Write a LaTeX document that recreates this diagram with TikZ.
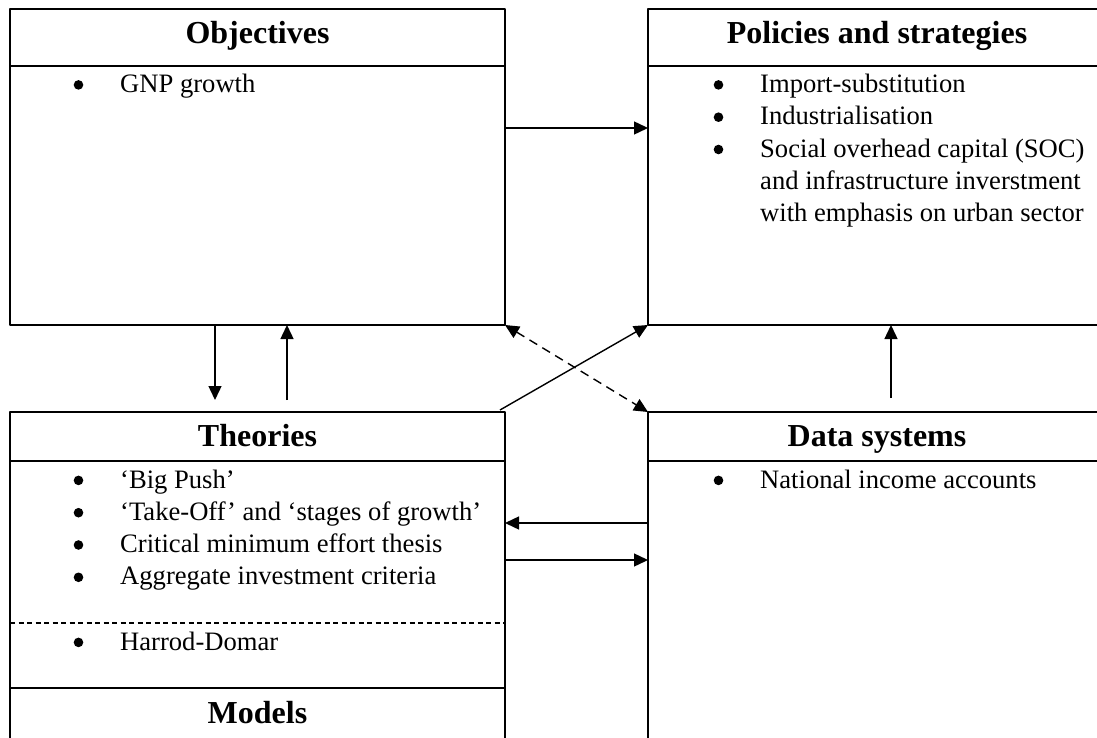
\documentclass[tikz,border=0pt]{standalone}
\usepackage{fontspec}
\setmainfont{Liberation Serif}
\usetikzlibrary{arrows.meta,calc}
\newcommand{\bodyfont}{\fontsize{26.6}{32.3}\selectfont}
\newcommand{\headfont}{\fontsize{32}{38}\selectfont\bfseries}
\newcommand{\bul}{\tikz[baseline={(0pt,-7.6pt)}]\fill (0pt,0pt) circle (4.8pt);}

\begin{document}
\begin{tikzpicture}[x=1pt,y=-1pt,line join=round,
  box/.style={draw,line width=2pt,rectangle,inner sep=0pt,outer sep=0pt,anchor=north west},
  head/.style={font=\headfont,anchor=base,inner sep=0pt},
  items/.style={font=\bodyfont,anchor=base west,inner sep=0pt},
  arr/.style={line width=1.4pt,-{Triangle[length=14pt,width=13pt]}},
  >={Triangle[length=14pt,width=13pt]}]
\clip (0,0) rectangle (1097,738);
% boxes
\node[box,minimum width=495pt,minimum height=316pt] (obj) at (10,9) {};
\node[box,minimum width=458pt,minimum height=316pt] (pol) at (648,9) {};
\node[box,minimum width=495pt,minimum height=276pt] (the) at (10,412) {};
\node[box,minimum width=495pt,minimum height=80pt] (mod) at (10,688) {};
\node[box,minimum width=458pt,minimum height=360pt] (dat) at (648,412) {};
% header rules
\draw[line width=2pt] (obj.west |- 0,66) -- (obj.east |- 0,66)
  (pol.west |- 0,66) -- (pol.east |- 0,66)
  (the.west |- 0,461) -- (the.east |- 0,461)
  (dat.west |- 0,461) -- (dat.east |- 0,461);
\draw[line width=1.3pt,dash pattern=on 5pt off 3.5pt] (the.west |- 0,623) -- (the.east |- 0,623);
% headings
\node[head] (objhead) at (257.5,44) {Objectives};
\node[head] (polhead) at (877,44) {Policies and strategies};
\node[head] (thehead) at (257.5,446) {Theories};
\node[head] (dathead) at (877,446) {Data systems};
\node[head] (modhead) at (257.5,723) {Models};
% lists
\node[items] (objlist) at (73.5,92.5) {\begin{tabular}[t]{@{}p{46.5pt}@{}l@{}}
  \bul & GNP growth
\end{tabular}};
\node[items] (pollist) at (713.5,92.5) {\begin{tabular}[t]{@{}p{46.5pt}@{}l@{}}
  \bul & Import-substitution\\
  \bul & Industrialisation\\
  \bul & Social overhead capital (SOC)\\
       & and infrastructure inverstment\\
       & with emphasis on urban sector
\end{tabular}};
\node[items] (thelist) at (73.5,488) {\begin{tabular}[t]{@{}p{46.5pt}@{}l@{}}
  \bul & `Big Push'\\
  \bul & `Take-Off' and `stages of growth'\\
  \bul & Critical minimum effort thesis\\
  \bul & Aggregate investment criteria
\end{tabular}};
\node[items] (modlist) at (73.5,650) {\begin{tabular}[t]{@{}p{46.5pt}@{}l@{}}
  \bul & Harrod-Domar
\end{tabular}};
\node[items] (datlist) at (713.5,488) {\begin{tabular}[t]{@{}p{46.5pt}@{}l@{}}
  \bul & National income accounts
\end{tabular}};
% free ends of the short arrows
\coordinate (dn) at (215,400);
\coordinate (up) at (287,400);
\coordinate (dup) at (891,398);
% connectors
\draw[arr] (obj.east |- 0,128) -- (pol.west |- 0,128);
\draw[arr] (obj.south -| dn) -- (dn);
\draw[arr] (up) -- (obj.south -| up);
\draw[arr] (dup) -- (pol.south -| dup);
\draw[arr] ($(the.north east)+(-5,-2)$) -- (pol.south west);
\draw[line width=1.4pt,dash pattern=on 9pt off 6pt,<->] (obj.south east) -- (dat.north west);
\draw[arr] (dat.west |- 0,523) -- (the.east |- 0,523);
\draw[arr] (the.east |- 0,560) -- (dat.west |- 0,560);
\end{tikzpicture}
\end{document}
